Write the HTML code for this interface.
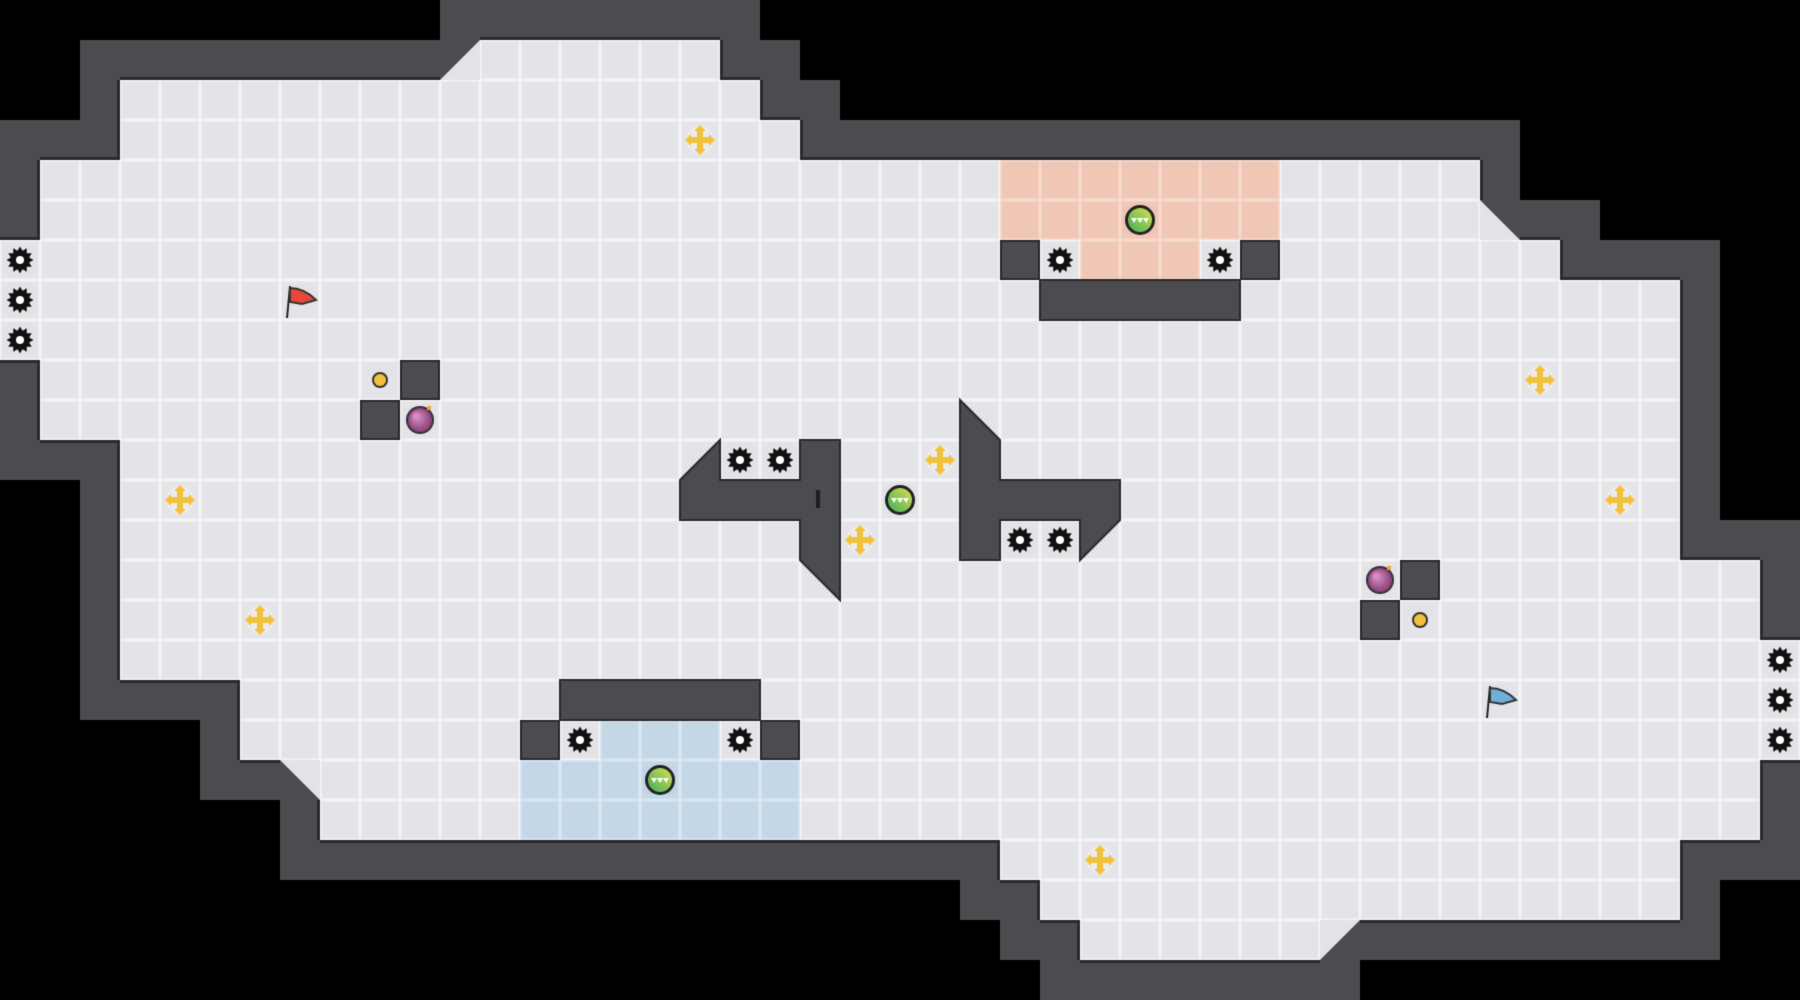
<!DOCTYPE html>
<html><head><meta charset="utf-8"><style>html,body{margin:0;padding:0;background:#000;width:1800px;height:1000px;overflow:hidden}canvas{display:block}</style></head>
<body><canvas id="c" width="1800" height="1000"></canvas>
<script>
const C=40,cv=document.getElementById('c'),g=cv.getContext('2d');
g.fillStyle='#000';g.fillRect(0,0,1800,1000);
const rows={1:[12,17],2:[3,18],3:[3,19],4:[1,36],5:[1,36],6:[0,38],7:[0,41],8:[0,41],9:[1,41],10:[1,41],11:[3,41],12:[3,41],13:[3,41],14:[3,43],15:[3,43],16:[3,44],17:[6,44],18:[6,44],19:[8,43],20:[8,43],21:[25,41],22:[26,41],23:[27,32]};
const F=[];for(let r=0;r<25;r++){F[r]=[];for(let c=0;c<45;c++){const d=rows[r];F[r][c]=!!(d&&c>=d[0]&&c<=d[1]);}}
const ftri=[[37,5,'ll'],[7,19,'ur'],[33,23,'ul'],[11,1,'lr']];
const WALL='#4b4b50',EDGE='#2a2a2e';
g.fillStyle=WALL;
for(let r=0;r<25;r++)for(let c=0;c<45;c++){if(F[r][c])continue;let n=false;
for(let dr=-1;dr<=1;dr++)for(let dc=-1;dc<=1;dc++){const rr=r+dr,cc=c+dc;if(rr>=0&&rr<25&&cc>=0&&cc<45&&F[rr][cc]===true)n=true;}
if(n)g.fillRect(c*C,r*C,C,C);}
g.fillRect(0,4*C,C,2*C);g.fillRect(0,9*C,C,2*C);g.fillRect(44*C,19*C,C,2*C);
ftri.forEach(t=>{g.fillRect(t[0]*C,t[1]*C,C,C);});
function triPts(c,r,t){const x0=c*C,y0=r*C,x1=x0+C,y1=y0+C;
if(t=='ll')return[[x0,y0],[x0,y1],[x1,y1]];if(t=='ur')return[[x0,y0],[x1,y0],[x1,y1]];if(t=='ul')return[[x0,y0],[x1,y0],[x0,y1]];return[[x1,y0],[x1,y1],[x0,y1]];}
function tri(c,r,t){const p=triPts(c,r,t);g.beginPath();g.moveTo(p[0][0],p[0][1]);p.slice(1).forEach(q=>g.lineTo(q[0],q[1]));g.closePath();g.fill();}
const pink=(c,r)=>(r>=4&&r<=5&&c>=25&&c<=31)||(r==6&&c>=27&&c<=29);
const blue=(c,r)=>(r>=19&&r<=20&&c>=13&&c<=19)||(r==18&&c>=15&&c<=17);
for(let r=0;r<25;r++)for(let c=0;c<45;c++){if(F[r][c]){g.fillStyle=pink(c,r)?'#f0c6b4':blue(c,r)?'#c3d7e7':'#e4e4e8';g.fillRect(c*C,r*C,C,C);
g.strokeStyle=pink(c,r)?'#f7dcd0':blue(c,r)?'#dbe8f2':'#f5f5f7';g.lineWidth=1.5;g.strokeRect(c*C+0.75,r*C+0.75,C-1.5,C-1.5);}}
g.fillStyle='#e4e4e8';ftri.forEach(t=>tri(...t));
// dark edges along floor boundary
g.strokeStyle=EDGE;g.lineWidth=3;
const isF=(c,r)=>r>=0&&r<25&&c>=0&&c<45&&F[r][c];
for(let r=0;r<25;r++)for(let c=0;c<45;c++){if(!F[r][c])continue;const x=c*C,y=r*C;g.beginPath();
if(!isF(c,r-1)&&!ftri.some(t=>t[0]==c&&t[1]==r-1)){g.moveTo(x,y-1.5);g.lineTo(x+C,y-1.5);}
if(!isF(c,r+1)&&!ftri.some(t=>t[0]==c&&t[1]==r+1)){g.moveTo(x,y+C+1.5);g.lineTo(x+C,y+C+1.5);}
if(!isF(c-1,r)&&!ftri.some(t=>t[0]==c-1&&t[1]==r)&&!(c==0)){g.moveTo(x-1.5,y);g.lineTo(x-1.5,y+C);}
if(!isF(c+1,r)&&!ftri.some(t=>t[0]==c+1&&t[1]==r)&&!(c==44)){g.moveTo(x+C+1.5,y);g.lineTo(x+C+1.5,y+C);}
g.stroke();}
// obstacles
g.fillStyle=WALL;
const W=[[10,9],[9,10],[25,6],[31,6],[13,18],[19,18],[35,14],[34,15],[20,11],[20,12],[20,13],[24,11],[24,12],[24,13]];
for(let c=26;c<=30;c++)W.push([c,7]);for(let c=14;c<=18;c++)W.push([c,17]);for(let c=17;c<=19;c++)W.push([c,12]);for(let c=25;c<=27;c++)W.push([c,12]);
W.forEach(w=>{g.fillRect(w[0]*C,w[1]*C,C,C);});
tri(20,14,'ur');tri(17,11,'lr');tri(24,10,'ll');tri(27,13,'ul');
g.strokeStyle=EDGE;g.lineWidth=2;
[[10,9],[9,10],[25,6],[31,6],[13,18],[19,18],[35,14],[34,15]].forEach(w=>g.strokeRect(w[0]*C+1,w[1]*C+1,C-2,C-2));
function poly(p){g.beginPath();g.moveTo(p[0][0],p[0][1]);p.slice(1).forEach(q=>g.lineTo(q[0],q[1]));g.closePath();g.stroke();}
poly([[26*C,7*C],[31*C,7*C],[31*C,8*C],[26*C,8*C]]);
poly([[14*C,17*C],[19*C,17*C],[19*C,18*C],[14*C,18*C]]);
poly([[17*C,12*C],[18*C,11*C],[18*C,12*C],[20*C,12*C],[20*C,11*C],[21*C,11*C],[21*C,15*C],[20*C,14*C],[20*C,13*C],[17*C,13*C]]);
poly([[24*C,10*C],[25*C,11*C],[25*C,12*C],[28*C,12*C],[28*C,13*C],[27*C,14*C],[27*C,13*C],[25*C,13*C],[25*C,14*C],[24*C,14*C]]);
g.fillStyle='#1e1e22';g.fillRect(20*C+16,12*C+10,4,18);
// icons
function gear(c,r){const x=c*C+20,y=r*C+20;g.fillStyle='#111';g.beginPath();for(let i=0;i<24;i++){const a=i*Math.PI/12,rr=i%2?9.5:13.5;g.lineTo(x+rr*Math.cos(a),y+rr*Math.sin(a));}g.closePath();g.fill();g.fillStyle='#fff';g.beginPath();g.arc(x,y,4,0,7);g.fill();}
[[0,6],[0,7],[0,8],[44,16],[44,17],[44,18],[26,6],[30,6],[14,18],[18,18],[18,11],[19,11],[25,13],[26,13]].forEach(p=>gear(...p));
function plus(c,r){const x=c*C+20,y=r*C+20;g.fillStyle='#ececf0';g.beginPath();g.arc(x,y,14,0,7);g.fill();g.fillStyle='#f3c23c';g.fillRect(x-12,y-3,24,6);g.fillRect(x-3,y-12,6,24);
[[1,0],[-1,0],[0,1],[0,-1]].forEach(d=>{g.beginPath();const tx=x+d[0]*15,ty=y+d[1]*15,bx=x+d[0]*9,by=y+d[1]*9;g.moveTo(tx,ty);g.lineTo(bx+d[1]*6,by+d[0]*6);g.lineTo(bx-d[1]*6,by-d[0]*6);g.fill();});}
[[17,3],[4,12],[6,15],[23,11],[21,13],[38,9],[40,12],[27,21]].forEach(p=>plus(...p));
function ball(c,r){const x=c*C+20,y=r*C+20;g.fillStyle='#222';g.beginPath();g.arc(x,y,15,0,7);g.fill();const gr=g.createLinearGradient(x-12,y+12,x+12,y-12);gr.addColorStop(0,'#3fae5a');gr.addColorStop(1,'#d8e050');g.fillStyle=gr;g.beginPath();g.arc(x,y,12,0,7);g.fill();g.fillStyle='#fff';for(let i=-1;i<=1;i++){g.beginPath();g.moveTo(x+i*6-3,y-2);g.lineTo(x+i*6+3,y-2);g.lineTo(x+i*6,y+3);g.fill();}}
[[28,5],[22,12],[16,19]].forEach(p=>ball(...p));
function bomb(c,r){const x=c*C+20,y=r*C+20;g.fillStyle='#333';g.beginPath();g.arc(x,y,14,0,7);g.fill();const gr=g.createRadialGradient(x-4,y-4,2,x,y,12);gr.addColorStop(0,'#d68cc0');gr.addColorStop(1,'#8a4078');g.fillStyle=gr;g.beginPath();g.arc(x,y,12,0,7);g.fill();g.fillStyle='#f3a23c';g.fillRect(x+7,y-14,4,4);}
bomb(10,10);bomb(34,14);
function dot(c,r){const x=c*C+20,y=r*C+20;g.fillStyle='#333';g.beginPath();g.arc(x,y,8,0,7);g.fill();g.fillStyle='#f3c23c';g.beginPath();g.arc(x,y,6,0,7);g.fill();}
dot(9,9);dot(35,15);
function flag(c,r,col){const x=c*C+10,y=r*C+6;g.strokeStyle='#222';g.lineWidth=2;g.beginPath();g.moveTo(x,y);g.lineTo(x-3,y+32);g.stroke();g.fillStyle=col;g.strokeStyle='#333';g.beginPath();g.moveTo(x,y+2);g.quadraticCurveTo(x+14,y+2,x+26,y+14);g.lineTo(x+12,y+18);g.lineTo(x,y+16);g.closePath();g.fill();g.stroke();}
flag(7,7,'#e8483a');flag(37,17,'#6fb0d8');
</script></body></html>
